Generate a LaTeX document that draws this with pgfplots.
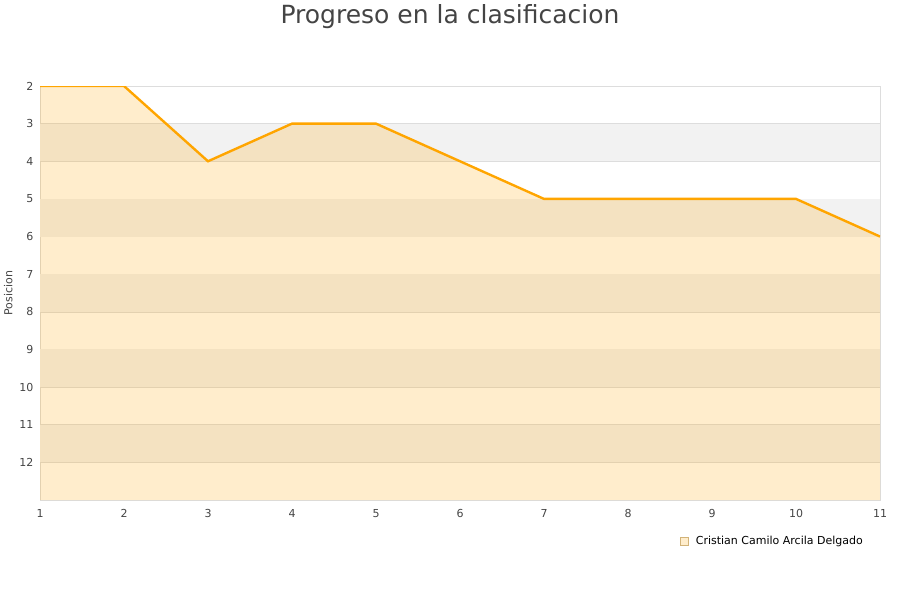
\documentclass[border=0pt]{standalone}
\usepackage{pgfplots}
\pgfplotsset{compat=1.18}
\usepackage{fontspec}
\setmainfont{DejaVu Sans}
\definecolor{ln}{HTML}{FFA500}
\definecolor{band}{HTML}{F2F2F2}
\definecolor{txt}{HTML}{444444}
\definecolor{gridc}{HTML}{DDDDDD}
\begin{document}
\begin{tikzpicture}
\path[use as bounding box] (-40bp,-100bp) rectangle (860bp,500bp);
\begin{axis}[
  scale only axis,
  width=840bp, height=414bp,
  xmin=1, xmax=11, ymin=2, ymax=13,
  y dir=reverse,
  xtick={1,...,11}, ytick={2,...,12},
  ymajorgrids=true,
  grid style={gridc, line width=0.6pt},
  axis line style={gridc, line width=0.8pt},
  tick style={draw=none},
  ticklabel style={font=\fontsize{11bp}{13bp}\selectfont, text=txt},
  /pgf/number format/assume math mode=true,
  ylabel={Posicion},
  ylabel style={font=\fontsize{11bp}{13bp}\selectfont, text=txt, at={(ticklabel cs:0.5)}, xshift=0bp},
  yticklabel style={xshift=-3bp},
  xticklabel style={yshift=-6bp},
  legend style={at={(1,0)}, anchor=north east, xshift=-12bp, yshift=-32bp, draw=none, fill=none,
    font=\fontsize{11bp}{13bp}\selectfont},
  legend cell align=left,
  legend image code/.code={\draw[fill=ln!20, draw=ln!50!gray!70, line width=0.6pt, fill opacity=1] (0bp,-4bp) rectangle (8bp,4bp);
    \path (14bp,0bp);},
]
% alternating bands
\addplot[fill=band, draw=none, forget plot] coordinates {(1,3)(11,3)(11,4)(1,4)} -- cycle;
\addplot[fill=band, draw=none, forget plot] coordinates {(1,5)(11,5)(11,6)(1,6)} -- cycle;
\addplot[fill=band, draw=none, forget plot] coordinates {(1,7)(11,7)(11,8)(1,8)} -- cycle;
\addplot[fill=band, draw=none, forget plot] coordinates {(1,9)(11,9)(11,10)(1,10)} -- cycle;
\addplot[fill=band, draw=none, forget plot] coordinates {(1,11)(11,11)(11,12)(1,12)} -- cycle;
% filled area
\addplot[fill=ln, fill opacity=0.2, draw=none]
  coordinates {(1,13)(1,2)(2,2)(3,4)(4,3)(5,3)(6,4)(7,5)(8,5)(9,5)(10,5)(11,6)(11,13)} -- cycle;
\addlegendentry{Cristian Camilo Arcila Delgado}
\addplot[ln, line width=2.4pt, forget plot]
  coordinates {(1,2)(2,2)(3,4)(4,3)(5,3)(6,4)(7,5)(8,5)(9,5)(10,5)(11,6)};
\end{axis}
\node[text=txt, font=\fontsize{25bp}{30bp}\selectfont] at (410bp,483bp) {Progreso en la clasificacion};
\end{tikzpicture}
\end{document}
